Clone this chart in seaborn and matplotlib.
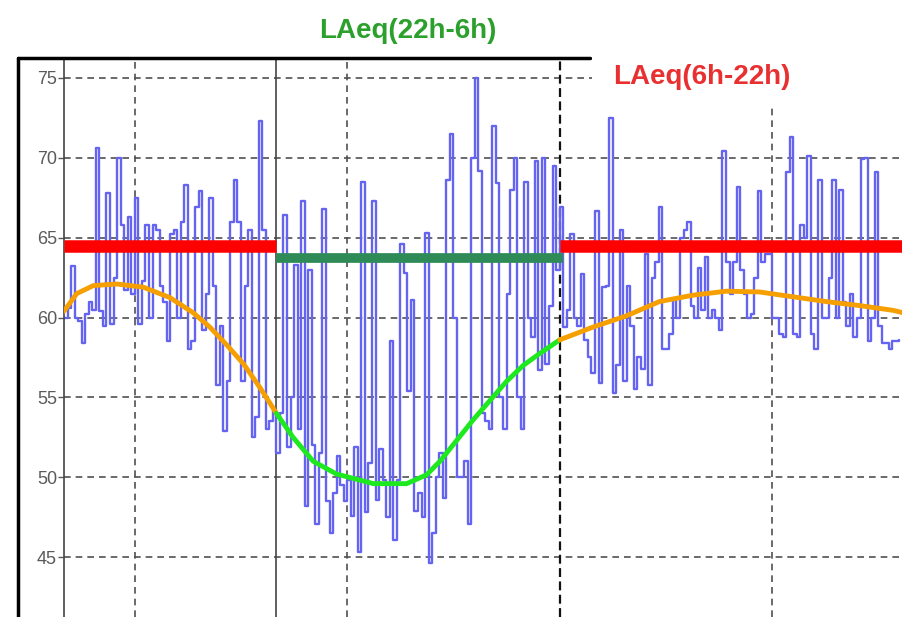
import numpy as np
import pandas as pd
import matplotlib.pyplot as plt
import seaborn as sns
from matplotlib.lines import Line2D
from matplotlib.patches import Rectangle

# sound level readings (dB), one every 6 minutes
evening_levels = [60.0, 60.6, 63.2, 60.0, 59.8, 58.4, 60.2, 61.0, 60.5, 70.6,
                  60.4, 59.5, 67.8, 59.6, 62.5, 70.0, 65.8, 61.7, 66.3, 61.5,
                  67.5, 59.6, 62.3, 65.8, 60.0, 65.8, 65.5, 62.0, 61.0, 58.5,
                  65.2, 65.5, 60.0, 66.0, 68.3, 58.0, 58.5, 66.9, 67.9, 59.2,
                  61.5, 67.5, 62.0, 55.8, 59.5, 52.9, 56.0, 66.0, 68.6, 66.0,
                  56.0, 62.0, 65.5, 52.5, 53.8, 72.3, 65.5, 53.0, 53.5, 54.2]
night_levels = [51.5, 54.0, 66.4, 51.9, 55.0, 63.3, 53.0, 67.3, 48.2, 63.0,
                52.0, 47.1, 51.5, 66.8, 48.5, 46.5, 49.0, 51.3, 49.5, 48.5,
                49.8, 47.6, 51.9, 45.3, 68.5, 47.8, 50.9, 67.3, 48.6, 51.8,
                49.8, 47.5, 58.5, 46.1, 49.8, 64.6, 62.8, 55.4, 61.1, 47.9,
                49.0, 47.5, 65.3, 44.6, 46.5, 50.0, 51.5, 48.7, 68.6, 71.5,
                60.0, 50.0, 50.0, 51.0, 47.1, 70.0, 75.0, 69.2, 54.0, 53.5,
                53.0, 72.0, 68.4, 55.0, 53.0, 61.5, 68.0, 70.0, 55.0, 53.0,
                68.5, 60.0, 58.8, 69.8, 56.7, 70.0, 57.1, 60.7, 69.5, 63.0]
day_levels = [66.9, 59.4, 60.5, 65.2, 60.0, 59.5, 62.7, 58.6, 57.5, 56.5,
              66.7, 55.9, 61.9, 62.0, 72.5, 55.3, 57.0, 65.5, 56.0, 62.0,
              59.5, 55.5, 57.5, 56.8, 64.0, 55.8, 62.5, 63.5, 66.9, 58.0,
              58.0, 59.0, 61.1, 60.0, 65.0, 65.5, 66.0, 60.7, 60.0, 63.1,
              60.5, 63.8, 60.0, 60.5, 60.0, 59.2, 70.4, 63.5, 61.5, 63.5,
              68.2, 63.0, 61.5, 60.0, 60.2, 62.5, 67.9, 63.5, 64.0, 64.0,
              60.0, 60.0, 59.0, 58.8, 69.1, 71.3, 59.0, 58.8, 65.8, 65.0,
              70.1, 59.0, 58.0, 68.6, 60.0, 60.0, 62.5, 68.6, 60.0, 68.0,
              61.0, 59.5, 61.5, 58.8, 60.0, 69.9, 70.0, 58.5, 60.0, 69.1,
              59.5, 58.4, 58.4, 58.0, 58.5, 58.5, 58.6]

# smoothed trend (hour since midnight of day 1, dB)
trend_evening_t = [16.0, 16.36, 16.83, 17.49, 18.24, 18.99, 19.65, 20.12, 20.59, 21.07, 21.54, 22.0]
trend_evening_v = [60.4, 61.5, 62.0, 62.1, 61.9, 61.25, 60.3, 59.4, 58.3, 57.1, 55.6, 54.0]
trend_night_t = [22.0, 22.47, 23.04, 23.7, 24.74, 25.68, 26.24, 26.62, 27.09, 27.56, 28.03, 28.5, 28.97, 29.44, 30.0]
trend_night_v = [54.0, 52.5, 51.0, 50.2, 49.6, 49.6, 50.15, 51.0, 52.3, 53.6, 54.8, 56.0, 57.0, 57.75, 58.6]
trend_day_t = [30.0, 30.94, 31.88, 32.82, 33.77, 34.71, 35.65, 36.59, 37.53, 38.47, 39.42, 39.7]
trend_day_v = [58.6, 59.4, 60.1, 61.0, 61.4, 61.65, 61.6, 61.3, 61.0, 60.75, 60.45, 60.3]

laeq_day = 64.45
laeq_night = 63.75
t_start, t_night, t_morning, t_end = 16.0, 22.0, 30.0, 39.7

levels = evening_levels + night_levels + day_levels
df = pd.DataFrame({"t": t_start + 0.1 * np.arange(len(levels)), "level": levels})

sns.set_style("white")
plt.rcParams['font.family'] = ['Liberation Sans', 'DejaVu Sans']

fig = plt.figure(figsize=(9.03, 6.17), dpi=100)
ax = fig.add_axes([64 / 903, 0, 839 / 903, 557 / 617])

# grid
for y in [45, 50, 55, 60, 65, 70, 75]:
    ax.axhline(y, color='#505050', ls=(0, (4, 3)), lw=1.2, zorder=1)
for x in [18, 24, 36]:
    ax.axvline(x, color='#505050', ls=(0, (4, 3)), lw=1.2, zorder=1)
ax.axvline(t_night, color='#444444', lw=1.2, zorder=1)
ax.axvline(t_morning, color='#111111', ls=(0, (4, 2)), lw=1.6, zorder=1)

sns.lineplot(data=df, x="t", y="level", drawstyle='steps-post', color='#6464f0',
             lw=1.7, ax=ax, zorder=2)

ax.hlines(laeq_day, t_start, t_night, color='#ff0000', lw=9, zorder=3)
ax.hlines(laeq_day, t_morning, t_end, color='#ff0000', lw=9, zorder=3)
ax.hlines(laeq_night, t_night, t_morning + 0.1, color='#2e8b57', lw=7, zorder=3)

sns.lineplot(x=trend_evening_t, y=trend_evening_v, color='#f5a000', lw=3.5, ax=ax, zorder=4)
sns.lineplot(x=trend_night_t, y=trend_night_v, color='#1ee81e', lw=3.5, ax=ax, zorder=4)
sns.lineplot(x=trend_day_t, y=trend_day_v, color='#f5a000', lw=3.5, ax=ax, zorder=4)

ax.set_xlim(t_start, t_end)
ax.set_ylim(41.25, 76.125)
ax.set_yticks([45, 50, 55, 60, 65, 70, 75])
ax.set_xticks([])
ax.set_xlabel('')
ax.set_ylabel('')
ax.tick_params(axis='y', direction='out', length=4, width=1, colors='#5a5a5a',
               labelsize=13, pad=1, left=True)
for side in ['top', 'right', 'bottom']:
    ax.spines[side].set_visible(False)
ax.spines['left'].set_color('#444444')
ax.spines['left'].set_linewidth(1.2)

# outer frame
fy = 1 - 58 / 617
fig.add_artist(Line2D([18 / 903, 18 / 903], [0, fy], transform=fig.transFigure, color='black', lw=2.5))
fig.add_artist(Line2D([18 / 903, 590 / 903], [fy, fy], transform=fig.transFigure, color='black', lw=2.5))
fig.add_artist(Rectangle((592 / 903, 1 - 105 / 617), 311 / 903, 47 / 617, transform=fig.transFigure,
                         facecolor='white', edgecolor='none', zorder=5))

fig.text(408 / 903, 1 - 31 / 617, 'LAeq(22h-6h)', color='#2ca02c', fontsize=20, fontweight='bold',
         ha='center', va='center', zorder=6)
fig.text(702 / 903, 1 - 77 / 617, 'LAeq(6h-22h)', color='#e83030', fontsize=20, fontweight='bold',
         ha='center', va='center', zorder=6)

fig.savefig('out.png', dpi=100)
